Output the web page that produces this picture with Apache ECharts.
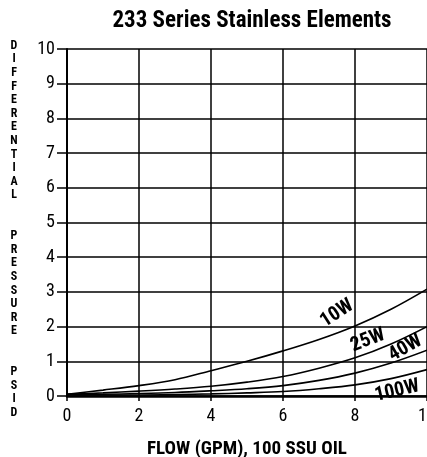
<!DOCTYPE html>
<html><head><meta charset="utf-8">
<script src="https://cdn.jsdelivr.net/npm/echarts@6/dist/echarts.min.js"></script>
<style>html,body{margin:0;padding:0;background:#fff}#c{width:427px;height:457px}</style>
</head><body><div id="c"></div>
<script>
var titleText = '233 Series Stainless Elements';
var xAxisName = 'FLOW (GPM), 100 SSU OIL';
var yAxisName = 'DIFFERENTIAL  PRESSURE  PSID';
var seriesNames = ['10W', '25W', '40W', '100W'];
var s10W = [[0,0.05],[1,0.17],[2,0.3],[3,0.47],[4,0.73],[5,1.0],[6,1.3],[7,1.63],[8,2.02],[9,2.5],[10,3.08]];
var s25W = [[0,0.05],[1,0.09],[2,0.14],[3,0.2],[4,0.28],[5,0.4],[6,0.56],[7,0.8],[8,1.1],[9,1.5],[10,2.0]];
var s40W = [[0,0.04],[1,0.05],[2,0.07],[3,0.1],[4,0.15],[5,0.21],[6,0.3],[7,0.45],[8,0.66],[9,0.95],[10,1.32]];
var s100W = [[0,0.04],[1,0.03],[2,0.03],[3,0.04],[4,0.06],[5,0.09],[6,0.13],[7,0.21],[8,0.32],[9,0.5],[10,0.76]];
var labelCoords = [[7.5,2.38],[8.36,1.6],[9.4,1.38],[9.17,0.14]];
var labelRotations = [33, 21, 30, 13];

var FONT = '"Roboto Condensed", Roboto, sans-serif';
var chart = echarts.init(document.getElementById('c'), null, {renderer:'canvas'});
var all = [s10W, s25W, s40W, s100W];
var series = all.map(function(d, i){
  return {
    name: seriesNames[i], type:'line', data:d, smooth:0.35, symbol:'none',
    lineStyle:{color:'#000', width:1.6}, silent:true,
    markPoint:{
      symbol:'circle', symbolSize:0, silent:true,
      data:[{coord:labelCoords[i], value:seriesNames[i]}],
      label:{show:true, formatter:seriesNames[i], position:'inside', rotate:labelRotations[i],
        color:'#000', fontFamily:FONT, fontWeight:'bold', fontSize:20}
    }
  };
});
chart.setOption({
  animation:false,
  backgroundColor:'#fff',
  title:{text:titleText, left:247, top:5, textAlign:'center',
    textStyle:{fontFamily:FONT, fontWeight:'bold', fontSize:23, color:'#000'}},
  grid:{left:67, right:0, top:49, bottom:61, containLabel:false, outerBoundsMode:'none'},
  xAxis:{type:'value', min:0, max:10, interval:2,
    name:xAxisName, nameLocation:'middle', nameGap:44,
    nameTextStyle:{fontFamily:FONT, fontWeight:'bold', fontSize:19, color:'#000'},
    axisLine:{show:true, lineStyle:{color:'#000', width:2.5}},
    axisTick:{show:true, length:5, lineStyle:{color:'#000', width:1.5}},
    axisLabel:{color:'#000', fontFamily:FONT, fontSize:18, margin:11},
    splitLine:{show:true, lineStyle:{color:'#000', width:1.5}}
  },
  yAxis:{type:'value', min:0, max:10, interval:1,
    name:'\n' + yAxisName.split('').join('\n'), nameLocation:'middle', nameGap:53, nameRotate:0,
    nameTextStyle:{fontFamily:FONT, fontWeight:'bold', fontSize:12, color:'#000', lineHeight:13.6, align:'center'},
    axisLine:{show:true, lineStyle:{color:'#000', width:2}},
    axisTick:{show:true, inside:false, length:10, lineStyle:{color:'#000', width:1.5}},
    axisLabel:{color:'#000', fontFamily:FONT, fontSize:18, margin:12},
    splitLine:{show:true, lineStyle:{color:'#000', width:1.5}}
  },
  series:series
});
</script></body></html>
